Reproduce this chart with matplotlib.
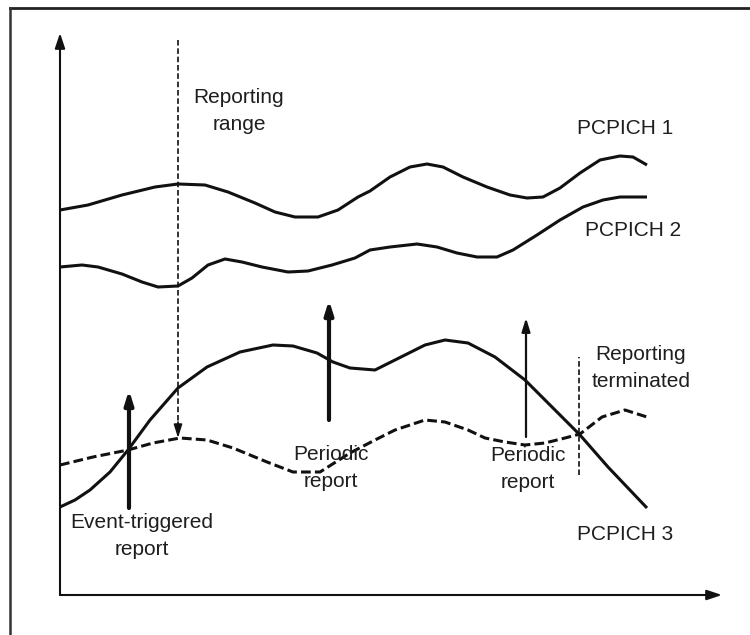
import matplotlib
matplotlib.use("Agg")
import matplotlib.pyplot as plt

plt.rcParams['font.family'] = ['Liberation Sans', 'DejaVu Sans']
plt.rcParams['lines.scale_dashes'] = False

# ---------- data (time vs. measured level, arbitrary units) ----------
t1 = [0, 28, 62, 95, 118, 145, 168, 195, 215, 235, 258, 278, 298, 310, 330,
      350, 367, 383, 403, 427, 450, 467, 483, 500, 520, 540, 560, 573, 587]
pcpich1 = [385, 390, 400, 408, 411, 410, 403, 392, 383, 378, 378, 385, 398,
           404, 418, 428, 431, 428, 418, 408, 400, 397, 398, 407, 422, 435,
           439, 438, 430]

t2 = [0, 22, 38, 62, 82, 98, 118, 132, 148, 165, 182, 202, 228, 248, 272,
      295, 310, 330, 357, 377, 397, 417, 437, 453, 477, 500, 523, 543, 560, 587]
pcpich2 = [328, 330, 328, 321, 313, 308, 309, 317, 330, 336, 333, 328, 323,
           324, 330, 337, 345, 348, 351, 348, 342, 338, 338, 345, 360, 375,
           388, 395, 398, 398]

t3 = [0, 15, 30, 50, 68, 90, 118, 147, 180, 213, 233, 257, 273, 290, 315,
      335, 365, 385, 408, 435, 465, 492, 520, 548, 587]
pcpich3 = [88, 95, 105, 123, 145, 175, 207, 228, 243, 250, 249, 242, 233,
           227, 225, 235, 250, 255, 252, 238, 215, 188, 160, 128, 87]

# dashed curve (reporting threshold)
t_thr = [0, 33, 68, 93, 120, 147, 173, 207, 233, 260, 290, 315, 335, 365,
         385, 408, 425, 445, 465, 485, 505, 520, 542, 565, 587]
threshold = [130, 138, 145, 152, 157, 155, 147, 133, 123, 123, 142, 155, 165,
             175, 173, 165, 157, 153, 150, 152, 157, 161, 178, 185, 178]

# report events: (time, level at base, level at tip)
event_report = (69, 87, 205)
periodic_reports = [(269, 175, 295), (466, 158, 277)]
range_marker = (118, 555, 157)
terminated_marker = (519, 120, 238)

# ---------- figure ----------
fig = plt.figure(figsize=(7.5, 6.35), dpi=100)
ax = fig.add_axes([0, 0, 1, 1])
ax.set_xlim(-60, 690)
ax.set_ylim(-40, 595)
ax.axis('off')

ink = '#111111'
txt = '#1e1e1e'

# outer frame (only top and left edges visible)
ax.plot([-50, 690], [587, 587], color='#222222', lw=2.0, clip_on=False)
ax.plot([-50, -50], [587, -40], color='#333333', lw=1.8, clip_on=False)

# axes with arrows
head = '-|>,head_length=0.9,head_width=0.3'
ax.annotate('', xy=(0, 562), xytext=(0, 0),
            arrowprops=dict(arrowstyle=head, lw=1.5, color=ink,
                            shrinkA=0, shrinkB=0))
ax.annotate('', xy=(662, 0), xytext=(0, 0),
            arrowprops=dict(arrowstyle=head, lw=1.5, color=ink,
                            shrinkA=0, shrinkB=0))

# curves
for t, v in [(t1, pcpich1), (t2, pcpich2), (t3, pcpich3)]:
    ax.plot(t, v, color=ink, lw=2.2, solid_joinstyle='round',
            solid_capstyle='butt')
ax.plot(t_thr, threshold, color=ink, lw=2.2, dashes=(7, 3),
        dash_joinstyle='round')

small_head = '-|>,head_length=0.8,head_width=0.25'

# reporting range (dashed, arrow down)
x, y0, y1 = range_marker
ax.plot([x, x], [y0, y1 + 14], color=ink, lw=1.2, dashes=(4, 2))
ax.annotate('', xy=(x, y1), xytext=(x, y1 + 16),
            arrowprops=dict(arrowstyle=small_head, lw=1.2, color=ink,
                            shrinkA=0, shrinkB=0))

# reporting terminated
x, y0, y1 = terminated_marker
ax.plot([x, x], [y0, y1], color=ink, lw=1.2, dashes=(4, 2))

# event-triggered report arrow
x, y0, y1 = event_report
ax.annotate('', xy=(x, y1), xytext=(x, y0),
            arrowprops=dict(arrowstyle=small_head, lw=3.0, color=ink,
                            shrinkA=0, shrinkB=0))

# periodic report arrows
for (x, y0, y1), w in zip(periodic_reports, [3.0, 1.6]):
    ax.annotate('', xy=(x, y1), xytext=(x, y0),
                arrowprops=dict(arrowstyle=small_head, lw=w, color=ink,
                                shrinkA=0, shrinkB=0))

# labels
fs = 15
ls = 1.5
ax.text(179, 484, 'Reporting\nrange', ha='center', va='center', fontsize=fs,
        color=txt, linespacing=ls)
ax.text(517, 467, 'PCPICH 1', ha='left', va='center', fontsize=fs, color=txt)
ax.text(525, 365, 'PCPICH 2', ha='left', va='center', fontsize=fs, color=txt)
ax.text(517, 60, 'PCPICH 3', ha='left', va='center', fontsize=fs, color=txt)
ax.text(581, 227, 'Reporting\nterminated', ha='center', va='center',
        fontsize=fs, color=txt, linespacing=ls)
ax.text(271, 127, 'Periodic\nreport', ha='center', va='center', fontsize=fs,
        color=txt, linespacing=ls)
ax.text(468, 126, 'Periodic\nreport', ha='center', va='center', fontsize=fs,
        color=txt, linespacing=ls)
ax.text(82, 59, 'Event-triggered\nreport', ha='center', va='center',
        fontsize=fs, color=txt, linespacing=ls)

fig.savefig('out.png', dpi=100)
